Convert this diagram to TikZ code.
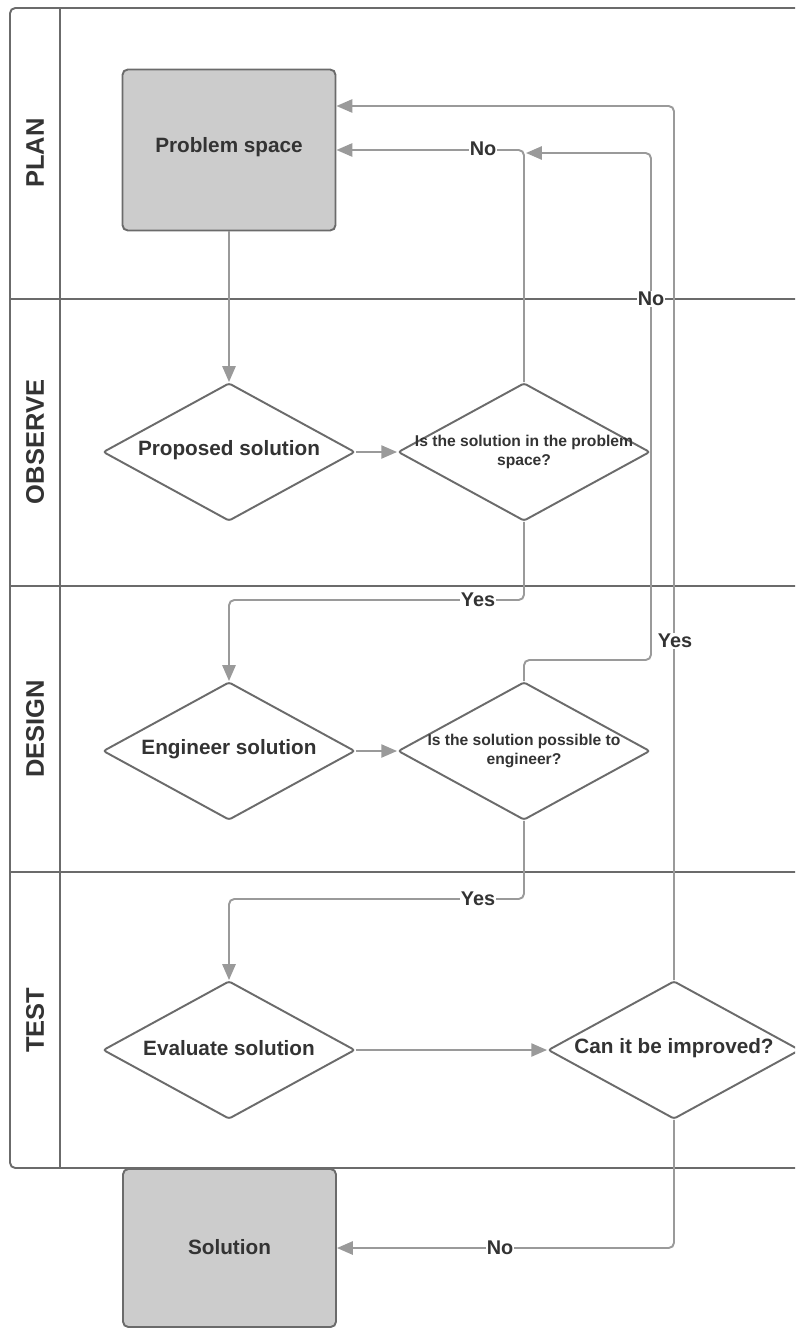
\documentclass[tikz,border=0pt]{standalone}
\usepackage{fontspec}
\setmainfont{Liberation Sans}
\usetikzlibrary{shapes.geometric,arrows.meta}

\definecolor{framegray}{HTML}{6B6B6B}
\definecolor{linkgray}{HTML}{9A9A9A}
\definecolor{boxfill}{HTML}{CCCCCC}
\definecolor{inkgray}{HTML}{333333}

\tikzset{
  lane/.style={draw=framegray, line width=1.1pt},
  lanetitle/.style={rotate=90, text=inkgray, font=\fontsize{14.5}{17}\selectfont\bfseries},
  termbox/.style={draw=framegray, fill=boxfill, line width=1.1pt, rounded corners=3pt,
    minimum width=4.26cm, minimum height=3.22cm, inner sep=0pt},
  decision/.style={diamond, draw=framegray, fill=white, line width=1.1pt, rounded corners=1.5pt,
    minimum width=5.04cm, minimum height=2.76cm, inner sep=0pt},
  bigtext/.style={text=inkgray, font=\fontsize{11.8}{14}\selectfont\bfseries, inner sep=0pt},
  smalltext/.style={text=inkgray, font=\fontsize{8.9}{10.6}\selectfont\bfseries, align=center, inner sep=0pt},
  link/.style={draw=linkgray, line width=1.1pt, rounded corners=3pt},
  arrowlink/.style={link, -{Triangle[length=9pt,width=7.5pt]}},
  answer/.style={fill=white, text=inkgray, font=\fontsize{11.3}{13}\selectfont\bfseries, inner sep=0.6pt}
}

\begin{document}
\begin{tikzpicture}[x=0.02cm, y=-0.02cm]
  \useasboundingbox (0,0) rectangle (795,1328);
  \clip (0,0) rectangle (795,1328);

  % swimlane frame
  \draw[lane, rounded corners=3pt] (815,8) -- (10,8) -- (10,1168) -- (815,1168);
  \draw[lane] (60,8) -- (60,1168);
  \draw[lane] (10,299) -- (815,299);
  \draw[lane] (10,586) -- (815,586);
  \draw[lane] (10,872) -- (815,872);

  \node[lanetitle] (lplan) at (35,153) {PLAN};
  \node[lanetitle] (lobserve) at (35,442) {OBSERVE};
  \node[lanetitle] (ldesign) at (35,729) {DESIGN};
  \node[lanetitle] (ltest) at (35,1020) {TEST};

  % shapes
  \node[termbox] (ps) at (229,150) {};
  \node[termbox, minimum height=3.16cm] (sol) at (229.5,1248) {};
  \node[decision] (pro) at (229,452) {};
  \node[decision] (q1) at (524,452) {};
  \node[decision] (eng) at (229,751) {};
  \node[decision] (q2) at (524,751) {};
  \node[decision] (eva) at (229,1050) {};
  \node[decision] (q3) at (674,1050) {};

  \coordinate (merge) at (526,153);

  % connectors
  \draw[arrowlink] (ps.south) -- (pro.north);
  \draw[arrowlink] (pro.east) -- (q1.west);
  \draw[arrowlink] (q1.north) |- (ps.east);
  \draw[arrowlink] (q1.south) -- (524,600) -| (eng.north);
  \draw[arrowlink] (eng.east) -- (q2.west);
  \draw[arrowlink] (q2.north) -- (524,660) -- (651,660) -- (651,153) -- (merge);
  \draw[arrowlink] (q2.south) -- (524,899) -| (eva.north);
  \draw[arrowlink] (eva.east) -- (q3.west);
  \draw[arrowlink] (q3.north) -- (674,106) -- (ps.east |- 0,106);
  \draw[arrowlink] (q3.south) |- (sol.east);

  % texts
  \node[bigtext] (tps) at (229,147) {Problem space};
  \node[bigtext] (tsol) at (229.5,1247) {Solution};
  \node[bigtext] (tpro) at (229,450) {Proposed solution};
  \node[bigtext] (teng) at (229,749) {Engineer solution};
  \node[bigtext] (teva) at (229,1048) {Evaluate solution};
  \node[bigtext] (tq3) at (674,1048) {Can it be improved?};
  \node[smalltext] (tq1) at (524,452) {Is the solution in the problem\\space?};
  \node[smalltext] (tq2) at (524,751) {Is the solution possible to\\engineer?};

  % answer labels
  \node[answer] (no1) at (483,149) {No};
  \node[answer] (no2) at (651,299) {No};
  \node[answer] (yes1) at (478,600) {Yes};
  \node[answer] (yes3) at (675,641) {Yes};
  \node[answer] (yes2) at (478,899) {Yes};
  \node[answer] (no3) at (500,1248) {No};
\end{tikzpicture}
\end{document}
